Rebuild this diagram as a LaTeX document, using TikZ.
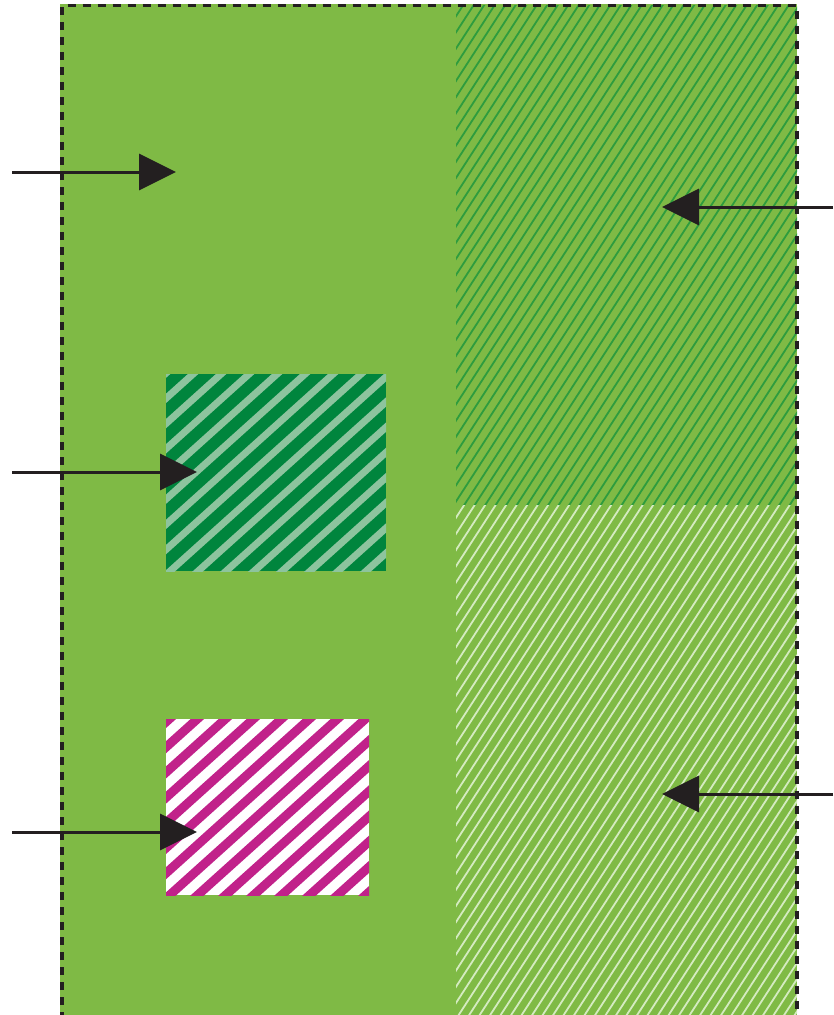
\documentclass[tikz,border=0pt]{standalone}
\usetikzlibrary{arrows.meta}
\definecolor{grass}{HTML}{7FBA45}
\definecolor{hatchdark}{HTML}{2E9C3E}
\definecolor{hatchlight}{HTML}{D4EBC0}
\definecolor{boxgreen}{HTML}{00853D}
\definecolor{boxstripe}{HTML}{8DC49E}
\definecolor{magentastripe}{HTML}{C1228A}
\definecolor{ink}{HTML}{231F20}
\tikzset{
  border/.style={ink, line width=3.4pt, dash pattern=on 8pt off 7pt},
  pointer/.style={ink, line width=3pt, -{Triangle[length=37pt,width=36pt]}},
  thinhatch/.style={line width=1.8pt},
}
\begin{document}
\begin{tikzpicture}[x=1pt,y=-1pt]
\useasboundingbox (0,0) rectangle (833,1015);
% main field
\fill[grass] (60,4) rectangle (797,1015);
% upper right hatch
\begin{scope}
  \clip (456,5) rectangle (797,505);
  \foreach \k in {-75,...,35} {
    \draw[thinhatch, hatchdark] (456+\k*10.5,1100) -- ++(714,-1100);
  }
\end{scope}
% lower right hatch
\begin{scope}
  \clip (456,505) rectangle (797,1015);
  \foreach \k in {-75,...,35} {
    \draw[thinhatch, hatchlight] (456+\k*10.5,1100) -- ++(714,-1100);
  }
\end{scope}
% dark green striped box
\coordinate (gbox) at (276,472);
\begin{scope}
  \clip (166,374) rectangle (386,571);
  \fill[boxgreen] (166,374) rectangle (386,571);
  \foreach \k in {-12,...,10} {
    \draw[boxstripe, line width=7pt] (166+\k*28,600) -- ++(300,-270);
  }
\end{scope}
% magenta striped box
\coordinate (mbox) at (267,807);
\begin{scope}
  \clip (166,719) rectangle (369,895);
  \fill[white] (166,719) rectangle (369,895);
  \foreach \k in {-12,...,10} {
    \draw[magentastripe, line width=9pt] (170+\k*28,920) -- ++(300,-270);
  }
\end{scope}
% dashed border
\draw[border] (62,1020) -- (62,5.5) -- (797,5.5) -- (797,1020);
% arrows
\coordinate (t1) at (12,172);  \coordinate (h1) at (176,172);
\coordinate (t2) at (12,472);  \coordinate (h2) at (197,472);
\coordinate (t3) at (12,832);  \coordinate (h3) at (197,832);
\coordinate (t4) at (833,207); \coordinate (h4) at (662,207);
\coordinate (t5) at (833,794); \coordinate (h5) at (662,794);
\draw[pointer] (t1) -- (h1);
\draw[pointer] (t2) -- (h2);
\draw[pointer] (t3) -- (h3);
\draw[pointer] (t4) -- (h4);
\draw[pointer] (t5) -- (h5);
\end{tikzpicture}
\end{document}
